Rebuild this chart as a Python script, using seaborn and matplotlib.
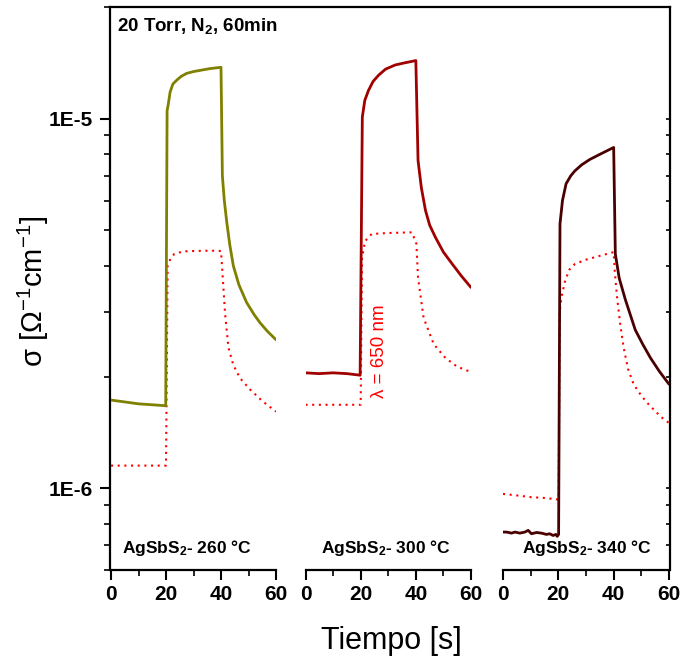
import numpy as np
import pandas as pd
import matplotlib
matplotlib.use("Agg")
import matplotlib.pyplot as plt
import seaborn as sns
from matplotlib.ticker import FixedLocator, FuncFormatter, NullFormatter, LogLocator

# ---- datos ----
# Panel 1: AgSbS2 - 260 °C
t1 = [0, 5, 10, 15, 19.9, 20.4, 20.8, 21.5, 22.5, 23.9, 25.5, 27.5, 30, 32.4, 36, 40,
      40.5, 41.2, 42.1, 43.2, 44.5, 46.5, 49.3, 52, 54.2, 57, 60]
s1 = [1.73e-6, 1.71e-6, 1.69e-6, 1.68e-6, 1.67e-6, 1.05e-5, 1.09e-5, 1.18e-5, 1.24e-5, 1.27e-5,
      1.30e-5, 1.325e-5, 1.34e-5, 1.35e-5, 1.365e-5, 1.376e-5,
      7.0e-6, 6.0e-6, 5.24e-6, 4.55e-6, 3.99e-6, 3.55e-6, 3.18e-6, 2.95e-6, 2.80e-6, 2.65e-6, 2.52e-6]
tl1 = [0, 5, 10, 15, 20, 20.6, 21.5, 23, 26.3, 30, 36, 40, 40.6, 41.5, 42.7, 44.5, 47, 50.5, 55, 60]
l1 = [1.15e-6, 1.15e-6, 1.15e-6, 1.15e-6, 1.15e-6, 4.0e-6, 4.15e-6, 4.3e-6, 4.37e-6, 4.38e-6,
      4.39e-6, 4.38e-6, 3.75e-6, 2.95e-6, 2.4e-6, 2.15e-6, 1.98e-6, 1.85e-6, 1.72e-6, 1.61e-6]

# Panel 2: AgSbS2 - 300 °C
t2 = [0, 5, 10, 15, 19.8, 20.6, 21.5, 22.8, 24.5, 26.5, 29, 32.5, 36, 40,
      40.8, 42, 43.5, 45, 47.1, 50, 53.2, 56.5, 60]
s2 = [2.05e-6, 2.04e-6, 2.05e-6, 2.04e-6, 2.02e-6, 1.01e-5, 1.12e-5, 1.19e-5, 1.26e-5, 1.31e-5,
      1.36e-5, 1.396e-5, 1.415e-5, 1.435e-5,
      7.7e-6, 6.5e-6, 5.64e-6, 5.15e-6, 4.77e-6, 4.35e-6, 4.04e-6, 3.75e-6, 3.49e-6]
tl2 = [0, 5, 10, 15, 20, 20.5, 21.6, 24, 30, 38.6, 40.2, 40.8, 42.8, 46.5, 50.7, 55, 60]
l2 = [1.68e-6, 1.68e-6, 1.68e-6, 1.68e-6, 1.68e-6, 4.2e-6, 4.66e-6, 4.87e-6, 4.9e-6, 4.92e-6,
      4.58e-6, 3.71e-6, 2.89e-6, 2.45e-6, 2.25e-6, 2.13e-6, 2.06e-6]

# Panel 3: AgSbS2 - 340 °C
t3 = [0, 1.3, 3.1, 4.3, 6.1, 7.9, 9.1, 10.3, 12.1, 13.9, 15.7, 16.9, 18.1, 19.1, 19.6, 20.1,
      20.6, 21.5, 22.8, 24.5, 26, 28.5, 31.4, 35, 40,
      40.6, 42, 44.2, 47.8, 50.5, 53.3, 56.5, 60]
s3 = [7.6e-7, 7.6e-7, 7.55e-7, 7.6e-7, 7.55e-7, 7.6e-7, 7.68e-7, 7.52e-7, 7.58e-7, 7.55e-7,
      7.49e-7, 7.52e-7, 7.44e-7, 7.49e-7, 7.4e-7, 7.49e-7,
      5.19e-6, 6.0e-6, 6.66e-6, 7.0e-6, 7.22e-6, 7.5e-6, 7.75e-6, 8.0e-6, 8.35e-6,
      4.3e-6, 3.7e-6, 3.24e-6, 2.68e-6, 2.45e-6, 2.25e-6, 2.07e-6, 1.91e-6]
tl3 = [0, 5, 10, 15, 19, 20.1, 20.5, 21.2, 22.5, 24, 26, 30, 35, 40,
       40.4, 41.2, 42.3, 43.6, 45.2, 47.2, 49.5, 51.8, 54.5, 57, 60]
l3 = [9.64e-7, 9.55e-7, 9.45e-7, 9.4e-7, 9.33e-7, 9.3e-7, 3.0e-6, 3.3e-6, 3.65e-6, 3.9e-6,
      4.04e-6, 4.15e-6, 4.25e-6, 4.35e-6,
      3.85e-6, 3.3e-6, 2.8e-6, 2.4e-6, 2.1e-6, 1.91e-6, 1.8e-6, 1.71e-6, 1.63e-6, 1.56e-6, 1.5e-6]

etiquetas = ["AgSbS$_\\mathbf{2}$- 260 °C", "AgSbS$_\\mathbf{2}$- 300 °C", "AgSbS$_\\mathbf{2}$- 340 °C"]
colores = ["#808000", "#A00000", "#4A0000"]
xticks = [0, 20, 40, 60]

# ---- estilo ----
sns.set_style("ticks")
plt.rcParams["font.family"] = ["Liberation Sans", "DejaVu Sans"]
plt.rcParams["mathtext.fontset"] = "custom"
plt.rcParams["mathtext.rm"] = "Liberation Sans"
plt.rcParams["mathtext.it"] = "Liberation Sans:italic"
plt.rcParams["mathtext.bf"] = "Liberation Sans:bold"
for k in ["text.color", "axes.labelcolor", "xtick.color", "ytick.color", "axes.edgecolor"]:
    plt.rcParams[k] = "black"

W, H = 683, 661
fig = plt.figure(figsize=(W / 100, H / 100), dpi=100)

def fx(px):
    return px / W

def fy(py):
    return 1 - py / H

ylim = (6e-7, 2e-5)
top, bot = 7.3, 570

# marco común (eje y, borde superior y derecho)
frame = fig.add_axes([fx(110), fy(bot), fx(670) - fx(110), fy(top) - fy(bot)], zorder=0)
frame.set_yscale("log")
frame.set_ylim(*ylim)
frame.set_xticks([])
frame.spines["bottom"].set_visible(False)
for s in ["left", "right", "top"]:
    frame.spines[s].set_linewidth(1.6)
frame.yaxis.set_major_locator(FixedLocator([1e-6, 1e-5]))
frame.yaxis.set_major_formatter(FuncFormatter(lambda v, p: "1E-%d" % round(-np.log10(v))))
frame.yaxis.set_minor_locator(LogLocator(base=10, subs=np.arange(2, 10)))
frame.yaxis.set_minor_formatter(NullFormatter())
frame.tick_params(axis="y", which="major", direction="out", length=7, width=1.5,
                  labelsize=15, pad=5)
frame.tick_params(axis="y", which="minor", direction="out", length=4, width=1.2)
for lb in frame.get_yticklabels():
    lb.set_fontweight("bold")

axr = frame.twinx()
axr.set_zorder(0.5)
axr.set_yscale("log")
axr.set_ylim(*ylim)
axr.yaxis.set_major_locator(FixedLocator([1e-6, 1e-5]))
axr.yaxis.set_minor_locator(LogLocator(base=10, subs=np.arange(2, 10)))
axr.yaxis.set_major_formatter(NullFormatter())
axr.yaxis.set_minor_formatter(NullFormatter())
axr.tick_params(axis="y", which="both", direction="in", length=3, width=1.2)
for s in axr.spines.values():
    s.set_visible(False)

# paneles
x0s = [111, 305.5, 503]
anchos = [165, 165.5, 166]
txt_x = [0.065, 0.094, 0.113]
datos = [(t1, s1, tl1, l1), (t2, s2, tl2, l2), (t3, s3, tl3, l3)]

for i, (t, s, tl, l) in enumerate(datos):
    ax = fig.add_axes([fx(x0s[i]), fy(bot), anchos[i] / W, fy(top) - fy(bot)], zorder=1)
    ax.patch.set_alpha(0)
    sns.lineplot(x=tl, y=l, ax=ax, color="#FF0000", lw=1.5, linestyle=(0, (1, 2.2)),
                 estimator=None, sort=False)
    sns.lineplot(x=t, y=s, ax=ax, color=colores[i], lw=2.0, estimator=None, sort=False)
    ax.set_yscale("log")
    ax.set_ylim(*ylim)
    ax.set_xlim(0, 60)
    ax.set_xlabel("")
    ax.set_ylabel("")
    ax.yaxis.set_visible(False)
    for sp in ["top", "left", "right"]:
        ax.spines[sp].set_visible(False)
    ax.spines["bottom"].set_linewidth(1.6)
    ax.set_xticks(xticks)
    ax.set_xticks([10, 30, 50], minor=True)
    ax.tick_params(axis="x", which="major", direction="out", length=7, width=1.5,
                   labelsize=15, pad=4)
    ax.tick_params(axis="x", which="minor", direction="out", length=4, width=1.2)
    for lb in ax.get_xticklabels():
        lb.set_fontweight("bold")
    ax.text(txt_x[i], 0.039, etiquetas[i], transform=ax.transAxes, fontsize=12.5,
            fontweight="bold", ha="left", va="center")

fig.text(fx(116.7), fy(31), "20 Torr, N$_\\mathbf{2}$, 60min", fontsize=13.5,
         fontweight="bold", ha="left", va="baseline")
fig.text(fx(379), fy(351), "λ = 650 nm", rotation=90, color="#FF0000", fontsize=13.5,
         ha="center", va="center")
fig.text(fx(33), fy(291), "σ [Ω$^{-1}$cm$^{-1}$]", rotation=90, fontsize=21,
         ha="center", va="center")
fig.text(fx(391), fy(641), "Tiempo [s]", fontsize=22, ha="center", va="center")

fig.savefig("out.png", dpi=100)
